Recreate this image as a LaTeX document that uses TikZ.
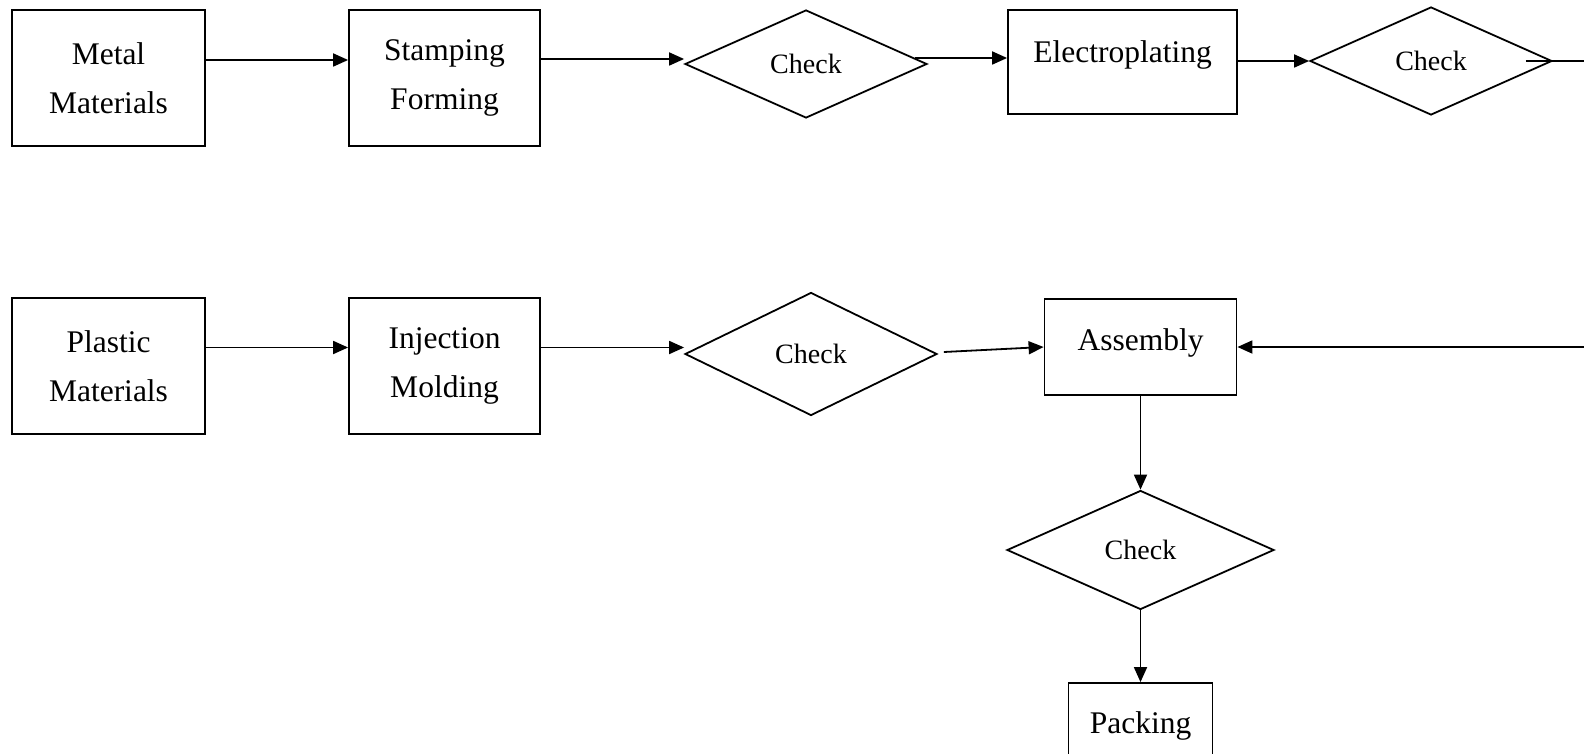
\documentclass[tikz,border=0pt]{standalone}
\usepackage{fontspec}
\setmainfont{Liberation Serif}
\usetikzlibrary{shapes.geometric, arrows.meta}

\begin{document}
\begin{tikzpicture}[x=1pt, y=-1pt, line width=1.8pt,
    proc/.style = {draw, rectangle, align=center, inner sep=0pt, font=\fontsize{31.5}{48.5}\selectfont},
    check/.style = {draw, diamond, inner sep=0pt, font=\fontsize{28}{34}\selectfont},
    flow/.style = {-{Triangle[length=15pt, width=13pt]}}]

  \useasboundingbox (0,0) rectangle (1584,754);

  % metal line
  \node[proc, minimum width=193pt, minimum height=136pt] (metal) at (108.5,78) {Metal\\Materials};
  \node[proc, minimum width=191pt, minimum height=136pt] (stamp) at (444.5,78) {Stamping\\Forming};
  \node[check, minimum width=242pt, minimum height=108pt] (CK_0) at (806,64) {Check};
  \node[proc, minimum width=229pt, minimum height=104pt, text height=22pt, text depth=20pt] (plate) at (1122.5,62) {Electroplating};
  \node[check, minimum width=242pt, minimum height=108pt] (CK_1) at (1431,61) {Check};

  % plastic line
  \node[proc, minimum width=193pt, minimum height=136pt] (plastic) at (108.5,366) {Plastic\\Materials};
  \node[proc, minimum width=191pt, minimum height=136pt] (inject) at (444.5,366) {Injection\\Molding};
  \node[check, minimum width=252pt, minimum height=123pt] (CK_2) at (811,354) {Check};
  \node[proc, minimum width=192pt, minimum height=96pt, text height=22pt, text depth=15pt] (assy) at (1140.5,347) {Assembly};
  \node[check, minimum width=267pt, minimum height=119pt] (CK_3) at (1140.5,550) {Check};
  \node[proc, minimum width=144pt, minimum height=86pt] (pack) at (1140.5,726) {Packing};

  \coordinate (ret) at (1620,200);

  \draw[flow] ([yshift=18pt]metal.east) to ([yshift=18pt]metal.east -| stamp.west);
  \draw[flow] ([yshift=19pt]stamp.east) to ([yshift=19pt]stamp.east -| CK_0.west);
  \draw[flow] ([xshift=-13pt, yshift=6pt]CK_0.east) to ([yshift=6pt]CK_0.east -| plate.west);
  \draw[flow] (plate.east |- CK_1.west) to (CK_1.west);
  \draw[flow] ([xshift=-27pt]CK_1.east) -- (CK_1.east -| ret) |- (assy.east);

  \draw[flow] ([yshift=18.5pt]plastic.east) to ([yshift=18.5pt]plastic.east -| inject.west);
  \draw[flow] ([yshift=18.5pt]inject.east) to ([yshift=18.5pt]inject.east -| CK_2.west);
  \draw[flow] ([xshift=6pt, yshift=2pt]CK_2.east) to (assy.west);
  \draw[flow] (assy.south) to (CK_3.north);
  \draw[flow] (CK_3.south) to (pack.north);

\end{tikzpicture}
\end{document}
